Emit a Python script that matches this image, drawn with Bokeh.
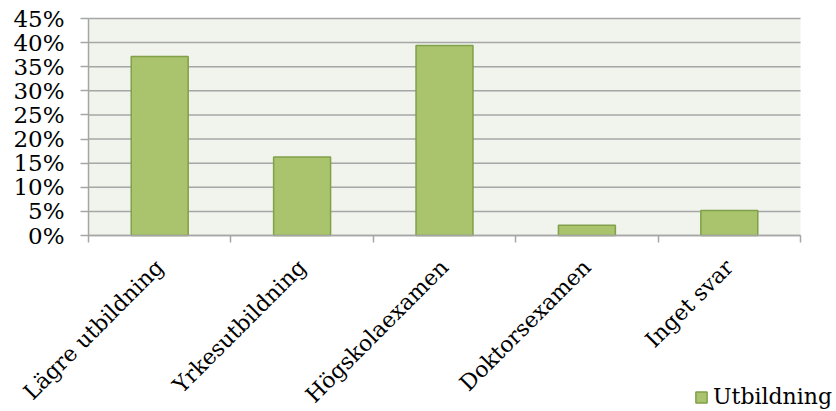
from bokeh.plotting import figure
from bokeh.models import (FixedTicker, PrintfTickFormatter, Range1d, ColumnDataSource,
                          BoxAnnotation)
from bokeh.embed import file_html
from bokeh.resources import INLINE
import math

# Share of respondents by highest education level (percent)
categories = ["Lägre utbildning", "Yrkesutbildning", "Högskolaexamen", "Doktorsexamen", "Inget svar"]
shares = [37.1, 16.3, 39.4, 2.1, 5.2]
series_name = "Utbildning"
y_ticks = [0, 5, 10, 15, 20, 25, 30, 35, 40, 45]

FONT = "DejaVu Serif"
GRID = "#a6a6a6"

n = len(categories)
y_top = y_ticks[-1]

# Page geometry: the frame fills the whole page; the plotting area proper
# (0..n, 0..y_top) sits at LEFT/TOP with size AREA_W x AREA_H, and both axes
# are pinned to it so the labels and the legend share the free space around it.
W, H = 836, 411
LEFT, TOP = 88, 18
AREA_W, AREA_H = 712, 217
ux = AREA_W / n
uy = AREA_H / y_top
x_range = Range1d(-LEFT / ux, (W - LEFT) / ux)
y_range = Range1d(-(H - TOP - AREA_H) / uy, y_top + TOP / uy)

positions = [i + 0.5 for i in range(n)]
source = ColumnDataSource(data=dict(x=positions, share=shares, name=categories))
grid_src = ColumnDataSource(data=dict(y=y_ticks, x0=[0] * len(y_ticks), x1=[n] * len(y_ticks)))

p = figure(
    width=W, height=H,
    x_range=x_range, y_range=y_range,
    output_backend="svg", toolbar_location=None,
    min_border=0,
)
p.outline_line_color = None
p.background_fill_color = "white"
p.border_fill_color = "white"
p.xgrid.visible = False
p.ygrid.visible = False

# plotting-area background and horizontal gridlines
p.add_layout(BoxAnnotation(left=0, right=n, bottom=0, top=y_top,
                           fill_color="#f1f3ed", fill_alpha=1, line_color=None,
                           level="image"))
p.segment(x0="x0", x1="x1", y0="y", y1="y", source=grid_src,
          line_color=GRID, line_width=1.5, level="underlay")

bars = p.vbar(x="x", top="share", width=0.4, source=source,
              fill_color="#a9c46c", line_color="#80a04a", line_width=1.5,
              legend_label=series_name)

# y axis pinned at the left edge of the plotting area: percent ticks
p.yaxis.fixed_location = 0
p.yaxis.bounds = (0, y_top)
p.yaxis.ticker = FixedTicker(ticks=y_ticks, minor_ticks=[])
p.yaxis.formatter = PrintfTickFormatter(format="%d%%")
p.yaxis.axis_line_color = GRID
p.yaxis.axis_line_width = 1.5
p.yaxis.major_tick_line_color = GRID
p.yaxis.major_tick_line_width = 1.5
p.yaxis.major_tick_out = 8
p.yaxis.major_tick_in = 0
p.yaxis.major_label_text_font = FONT
p.yaxis.major_label_text_font_size = "23px"
p.yaxis.major_label_text_color = "black"
p.yaxis.major_label_standoff = 16

# x axis pinned at 0%: labels at category centres, tick marks at category boundaries
p.xaxis.fixed_location = 0
p.xaxis.bounds = (0, n)
p.xaxis.ticker = FixedTicker(ticks=positions, minor_ticks=list(range(n + 1)))
p.xaxis.major_label_overrides = {pos: name for pos, name in zip(positions, categories)}
p.xaxis.major_label_orientation = math.pi / 4
p.xaxis.major_label_text_font = FONT
p.xaxis.major_label_text_font_size = "22px"
p.xaxis.major_label_text_color = "black"
p.xaxis.major_label_standoff = 21
p.xaxis.major_tick_out = 0
p.xaxis.major_tick_in = 0
p.xaxis.minor_tick_out = 7
p.xaxis.minor_tick_in = 0
p.xaxis.minor_tick_line_color = GRID
p.xaxis.minor_tick_line_width = 1.5
p.xaxis.axis_line_color = GRID
p.xaxis.axis_line_width = 1.5

# legend at the bottom right
leg = p.legend[0]
leg.location = (694, 2)
leg.orientation = "horizontal"
leg.background_fill_alpha = 0
leg.border_line_color = None
leg.padding = 0
leg.margin = 0
leg.glyph_width = 14
leg.glyph_height = 14
leg.label_standoff = 5
leg.label_text_font = FONT
leg.label_text_font_size = "22px"
leg.label_text_color = "black"

open("out.html", "w").write(file_html(p, INLINE))
